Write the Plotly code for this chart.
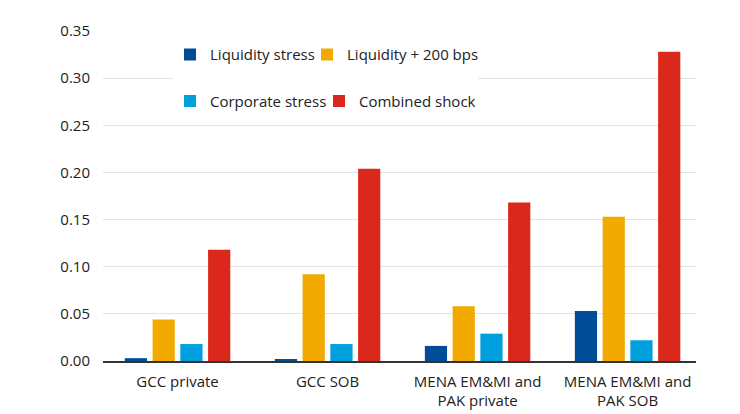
import plotly.graph_objects as go

categories = ["GCC private", "GCC SOB", "MENA EM&MI and<br>PAK private", "MENA EM&MI and<br>PAK SOB"]
liquidity_stress = [0.003, 0.002, 0.016, 0.053]
liquidity_200 = [0.044, 0.092, 0.058, 0.153]
corporate_stress = [0.018, 0.018, 0.029, 0.022]
combined_shock = [0.118, 0.204, 0.168, 0.328]
y_ticks = [0, 0.05, 0.10, 0.15, 0.20, 0.25, 0.30, 0.35]

series = [
    ("Liquidity stress", liquidity_stress, "#004C97", "legend", 92),
    ("Liquidity + 200 bps", liquidity_200, "#F2A900", "legend", None),
    ("Corporate stress", corporate_stress, "#00A0DF", "legend2", 104),
    ("Combined shock", combined_shock, "#DA291C", "legend2", None),
]

fig = go.Figure()
for name, vals, color, lg, lw in series:
    fig.add_trace(go.Bar(x=categories, y=vals, name=name, marker_color=color,
                         marker_line_width=0, legend=lg, legendwidth=lw))

font = "'Open Sans', 'Noto Sans', sans-serif"
fig.update_layout(
    width=740, height=414,
    margin=dict(l=95, r=52, t=21, b=59),
    paper_bgcolor="white", plot_bgcolor="white",
    font=dict(family=font, size=15, color="#222222"),
    barmode="group", bargap=0.26, bargroupgap=0.2,
    xaxis=dict(range=[-0.497, 3.456], showgrid=False, showline=True,
               linecolor="#333333", linewidth=1.5, ticks="", ticklabelstandoff=6,
               tickfont=dict(size=15)),
    yaxis=dict(range=[0, 0.35], tickvals=y_ticks, tickformat=".2f",
               showgrid=True, gridcolor="#e3e3e3", gridwidth=1, zeroline=False,
               ticks="", ticklen=0, ticklabelstandoff=12, tickfont=dict(size=15)),
    legend=dict(orientation="h", x=0.113, y=0.928, xanchor="left", yanchor="middle",
                bgcolor="rgba(0,0,0,0)", font=dict(size=15), traceorder="normal"),
    legend2=dict(orientation="h", x=0.113, y=0.787, xanchor="left", yanchor="middle",
                 bgcolor="rgba(0,0,0,0)", font=dict(size=15), traceorder="normal"),
    shapes=[dict(type="rect", xref="paper", yref="paper", x0=0.118, x1=0.632,
                 y0=0.734, y1=0.982, fillcolor="white", line_width=0, layer="above")],
    showlegend=True,
)
fig.write_html("out.html")
